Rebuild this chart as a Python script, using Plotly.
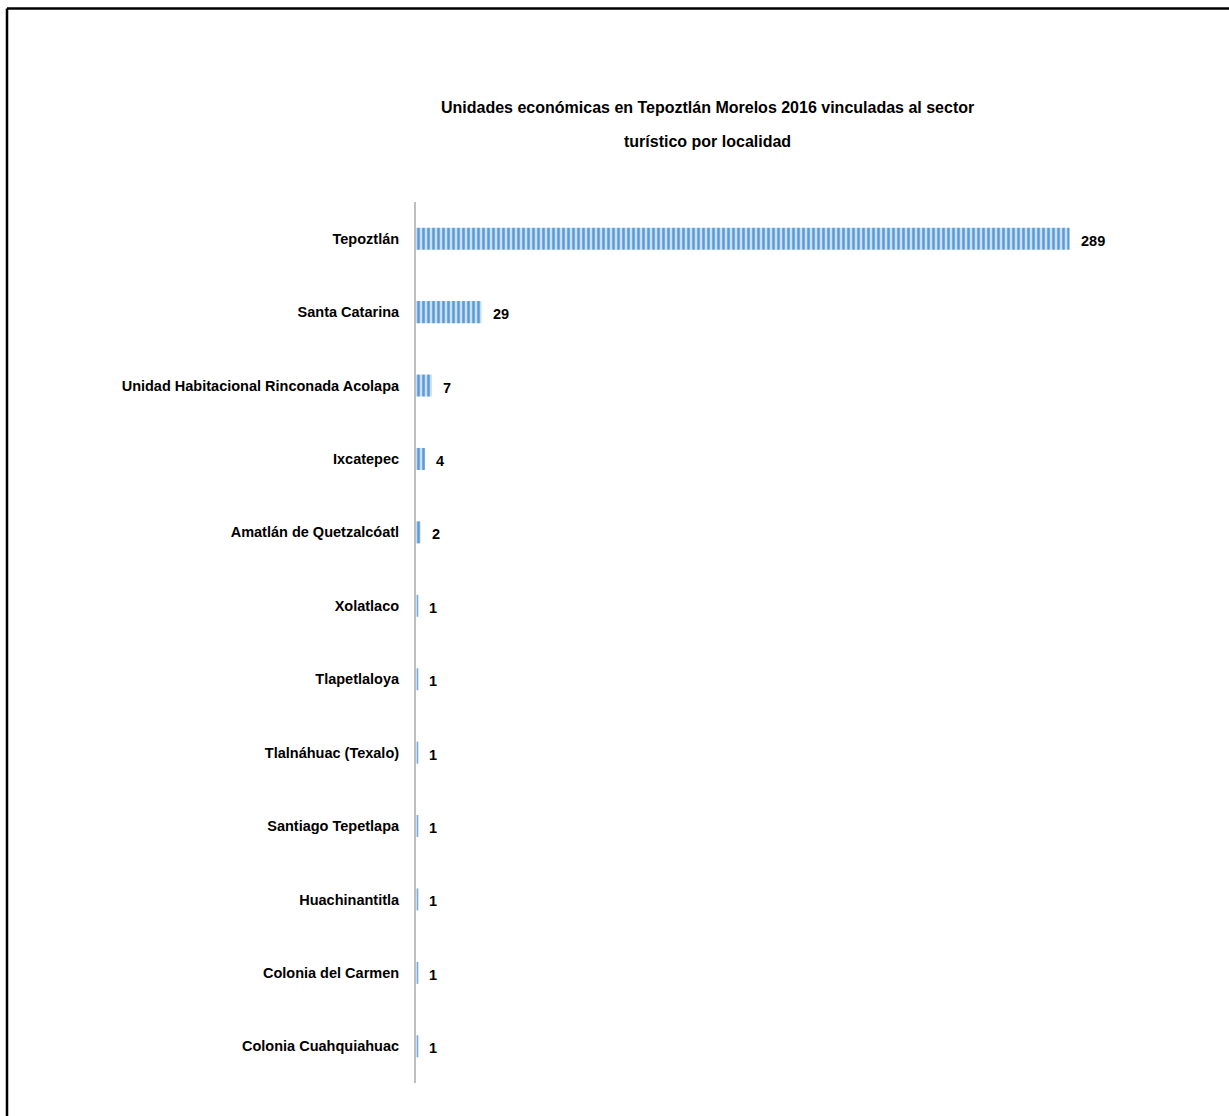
import plotly.graph_objects as go

categories = [
    "Tepoztlán",
    "Santa Catarina",
    "Unidad Habitacional Rinconada Acolapa",
    "Ixcatepec",
    "Amatlán de Quetzalcóatl",
    "Xolatlaco",
    "Tlapetlaloya",
    "Tlalnáhuac (Texalo)",
    "Santiago Tepetlapa",
    "Huachinantitla",
    "Colonia del Carmen",
    "Colonia Cuahquiahuac",
]
values = [289, 29, 7, 4, 2, 1, 1, 1, 1, 1, 1, 1]
title_lines = [
    "Unidades económicas en Tepoztlán Morelos 2016 vinculadas al sector",
    "turístico por localidad",
]

FONT = "Liberation Sans Narrow, Arial Narrow, Liberation Sans, sans-serif"

L, R, T, B = 416, 44, 202, 33
W, H = 1229, 1116
PW, PH = W - L - R, H - T - B

fig = go.Figure()
fig.add_trace(go.Bar(
    y=categories,
    x=values,
    orientation="h",
    width=0.3,
    marker=dict(
        color="#C9DEF1",
        line=dict(width=0),
        pattern=dict(shape="|", fgcolor="#5B9BD5", bgcolor="#C9DEF1", size=5, solidity=0.5, fillmode="replace"),
    ),
    hoverinfo="skip",
))

for c, v in zip(categories, values):
    fig.add_annotation(
        x=v, y=c, text=f"<b>{v}</b>", showarrow=False,
        xanchor="left", xshift=9, yshift=-2,
        font=dict(family=FONT, size=14.5, color="black"),
    )

for i, line in enumerate(title_lines):
    ypix = [107, 141][i]
    fig.add_annotation(
        xref="paper", yref="paper",
        x=(707 - L) / PW, y=(H - B - ypix) / PH,
        xanchor="center", yanchor="middle",
        text=f"<b>{line}</b>", showarrow=False,
        font=dict(family=FONT, size=16, color="black"),
    )

fig.update_layout(
    width=W, height=H,
    paper_bgcolor="white", plot_bgcolor="white",
    margin=dict(l=L, r=R, t=T, b=B),
    showlegend=False,
    shapes=[
        dict(type="line", xref="paper", yref="paper", x0=(7 - L) / PW, x1=(W - L) / PW,
             y0=(H - B - 8.5) / PH, y1=(H - B - 8.5) / PH, line=dict(color="black", width=2.5)),
        dict(type="line", xref="paper", yref="paper", x0=(7 - L) / PW, x1=(7 - L) / PW,
             y0=(H - B - 8.5) / PH, y1=-40 / PH, line=dict(color="black", width=2.5)),
    ],
)
fig.update_xaxes(range=[0, 340], visible=False, showgrid=False, zeroline=False)
fig.update_yaxes(
    autorange="reversed",
    showgrid=False, zeroline=False,
    showline=True, linecolor="#BFBFBF", linewidth=2,
    ticks="", ticklabelstandoff=12,
    tickfont=dict(family=FONT, size=14.5, color="black", weight="bold"),
)

fig.write_html("out.html")
